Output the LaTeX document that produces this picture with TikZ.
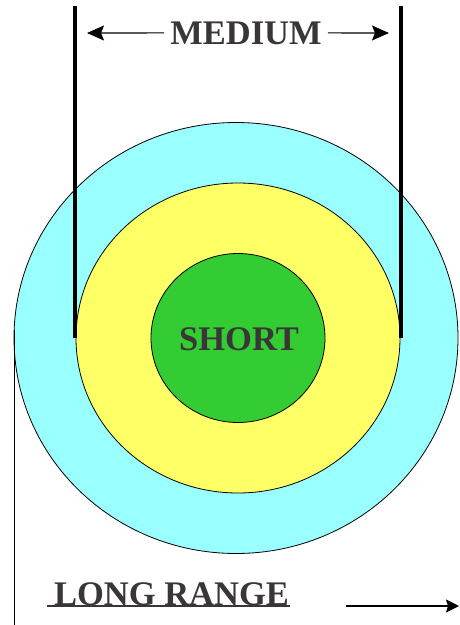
\documentclass[tikz,border=0pt]{standalone}
\usepackage{fontspec}
\setmainfont{Liberation Serif}
\usetikzlibrary{arrows.meta, shapes.geometric, positioning}
\definecolor{ringcyan}{HTML}{99FFFF}
\definecolor{ringyellow}{HTML}{FFFF66}
\definecolor{ringgreen}{HTML}{33CC33}
\definecolor{labelgray}{HTML}{3A3536}
\tikzset{
	ring/.style={ellipse, draw=black, line width=0.8pt, inner sep=0pt},
	bigtext/.style={font=\fontsize{34.5}{40}\selectfont\bfseries, text=labelgray, anchor=base},
	spanline/.style={line width=3.6pt},
	spanarrow/.style={line width=1.2pt, -{Stealth[length=17pt, width=15pt, inset=3pt]}}
}

\begin{document}
\begin{tikzpicture}[x=1pt, y=-1pt]
  \useasboundingbox (0,0) rectangle (459,625);
  % rings
  \node[ring, fill=ringcyan, minimum width=444pt, minimum height=431pt] (outer) at (236,338) {};
  \node[ring, fill=ringyellow, minimum width=324pt, minimum height=310pt] (middle) at (238,338) {};
  \node[ring, fill=ringgreen, minimum width=174pt, minimum height=169pt] (inner) at (238,338) {};
  \node[bigtext, inner sep=0pt] (short) at (239,350) {SHORT};
  % medium span
  \foreach \x/\n in {75/l, 401/r} {
    \coordinate (top\n) at (\x,6);
    \coordinate (bot\n) at (\x,338);
    \draw[spanline] (top\n) -- (bot\n);
  }
  \node[bigtext, inner xsep=6pt, inner ysep=0pt] (medium) at (246,44) {MEDIUM};
  \coordinate (mtipl) at (87,33);
  \coordinate (mtipr) at (389,33);
  \draw[spanarrow] (medium.west) -- (mtipl);
  \draw[spanarrow] (medium.east) -- (mtipr);
  % long range
  \coordinate (ltop) at (14,330);
  \coordinate (lbot) at (14,625);
  \draw[line width=1pt] (ltop) -- (lbot);
  \node[bigtext, inner sep=0pt] (long) at (171.5,605) {LONG RANGE};
  \coordinate (ulinel) at (47,606);
  \coordinate (uliner) at (290,606);
  \draw[line width=1.2pt, labelgray] (ulinel) -- (uliner);
  \coordinate (rstart) at (346,606);
  \coordinate (rtip) at (459,606);
  \draw[line width=1.2pt, -{Stealth[length=13pt, width=13pt, inset=2pt]}] (rstart) -- (rtip);
\end{tikzpicture}
\end{document}
